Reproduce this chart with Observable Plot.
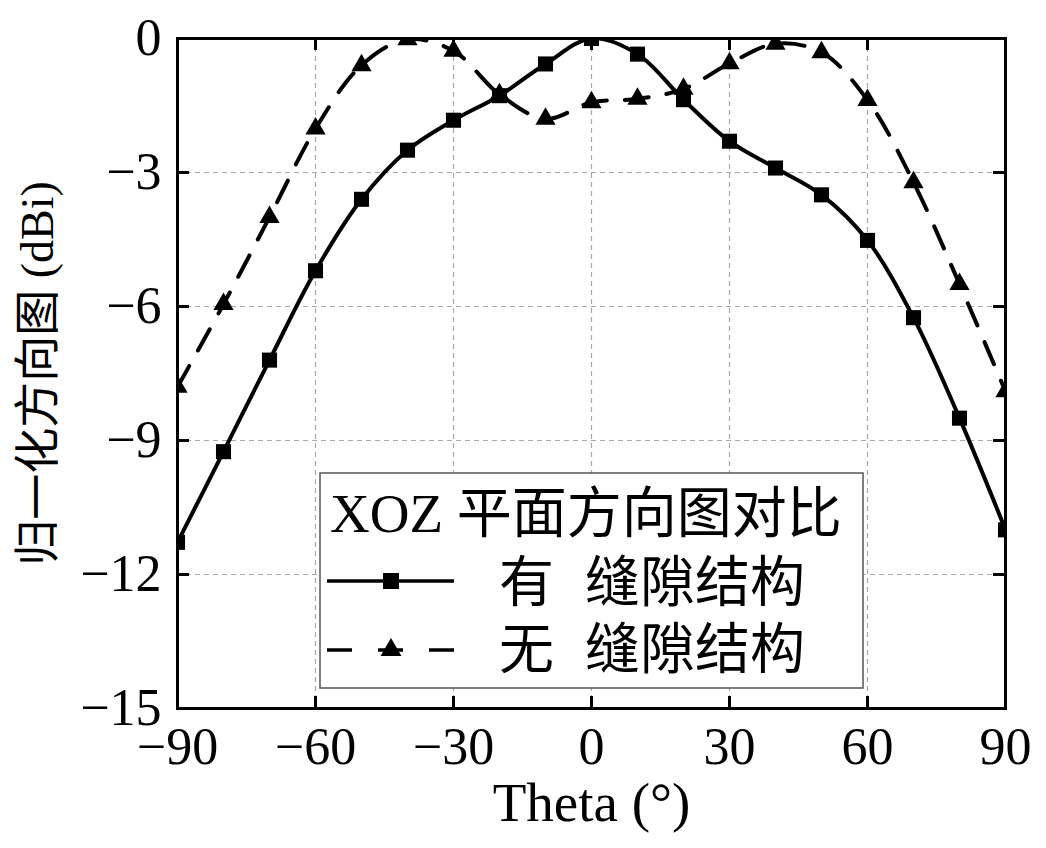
<!DOCTYPE html>
<html><head><meta charset="utf-8">
<script src="https://cdn.jsdelivr.net/npm/d3@7"></script>
<script src="https://cdn.jsdelivr.net/npm/@observablehq/plot@0.6"></script>
<style>
body{margin:0;background:#fff;}
#wrap{position:relative;width:1046px;height:848px;}
#legend{position:absolute;left:0;top:0;pointer-events:none;}
</style></head><body><div id="wrap"></div>
<script>
// ---- data ----
const theta = [-90,-80,-70,-60,-50,-40,-30,-20,-10,0,10,20,30,40,50,60,70,80,90];
const withGap = [-11.28,-9.25,-7.2,-5.2,-3.6,-2.5,-1.83,-1.28,-0.57,0,-0.35,-1.37,-2.3,-2.9,-3.5,-4.52,-6.25,-8.5,-11.0];
const withoutGap = [-7.8,-5.95,-4.0,-2.02,-0.6,-0.02,-0.28,-1.25,-1.8,-1.43,-1.35,-1.13,-0.56,-0.12,-0.31,-1.38,-3.22,-5.5,-7.9];
const xTicks = [-90,-60,-30,0,30,60,90];
const yTicks = [0,-3,-6,-9,-12,-15];
const seriesNames = ["有 缝隙结构","无 缝隙结构"];
const legendTitle = "XOZ 平面方向图对比";
const xLabel = "Theta (°)";
const yLabel = "归一化方向图 (dBi)";

const gapRows = theta.map((t,i)=>({theta:t, value:withGap[i], series:seriesNames[0]}));
const noGapRows = theta.map((t,i)=>({theta:t, value:withoutGap[i], series:seriesNames[1]}));

// ---- layout ----
const W=1046, H=848, mL=177, mR=41, mT=38, mB=140;
const frameW = W-mL-mR, frameH = H-mT-mB;
const fonts = "'Liberation Serif','Times New Roman','Noto Sans CJK SC',serif";
const tickLen = 12;

const plot = Plot.plot({
  width:W, height:H, marginLeft:mL, marginRight:mR, marginTop:mT, marginBottom:mB,
  style:{fontFamily:fonts, fontSize:"52px", color:"#000", background:"#fff"},
  x:{domain:[-90,90]},
  y:{domain:[-15,0]},
  marks:[
    Plot.ruleX(xTicks,{x:d=>d, stroke:"#a8a8a8", strokeWidth:1.2, strokeDasharray:"5,4"}),
    Plot.ruleY(yTicks,{y:d=>d, stroke:"#a8a8a8", strokeWidth:1.2, strokeDasharray:"5,4"}),
    Plot.line(gapRows,{x:"theta", y:"value", curve:"catmull-rom", stroke:"#000", strokeWidth:4, clip:true}),
    Plot.line(noGapRows,{x:"theta", y:"value", curve:"catmull-rom", stroke:"#000", strokeWidth:4, strokeDasharray:"24,18", clip:true}),
    Plot.dot(gapRows,{x:"theta", y:"value", symbol:"square", r:8.5, fill:"#000", clip:true}),
    Plot.dot(noGapRows,{x:"theta", y:"value", symbol:"triangle", r:7.5, fill:"#000", clip:true}),
    Plot.ruleX(xTicks,{x:d=>d, insetTop:frameH-tickLen, stroke:"#000", strokeWidth:3}),
    Plot.ruleX(xTicks,{x:d=>d, insetBottom:frameH-tickLen, stroke:"#000", strokeWidth:3}),
    Plot.ruleY(yTicks,{y:d=>d, insetRight:frameW-tickLen, stroke:"#000", strokeWidth:3}),
    Plot.ruleY(yTicks,{y:d=>d, insetLeft:frameW-tickLen, stroke:"#000", strokeWidth:3}),
    Plot.frame({stroke:"#000", strokeWidth:3}),
    Plot.axisX({ticks:xTicks, tickSize:0, tickPadding:19, label:null, fontSize:52}),
    Plot.axisY({ticks:yTicks, tickSize:0, tickPadding:16, label:null, fontSize:52}),
    Plot.text([xLabel],{text:d=>d, frameAnchor:"bottom", dy:95, lineAnchor:"middle", textAnchor:"middle", fontSize:55}),
    Plot.text([yLabel],{text:d=>d, frameAnchor:"left", dx:-139, rotate:-90, lineAnchor:"middle", textAnchor:"middle", fontSize:46})
  ]
});
const wrap = document.getElementById("wrap");
wrap.appendChild(plot);

// ---- legend (overlay) ----
const legendItems = [
  {label:seriesNames[0], dash:null, symbol:d3.symbolSquare, size:256},
  {label:seriesNames[1], dash:"25,26", symbol:d3.symbolTriangle, size:190}
];
const box = {x:320, y:473, w:543, h:215};
const svg = d3.select(wrap).append("svg").attr("id","legend").attr("width",W).attr("height",H)
  .style("font-family",fonts);
svg.append("rect").attr("x",box.x).attr("y",box.y).attr("width",box.w).attr("height",box.h)
  .attr("fill","#fff").attr("stroke","#555").attr("stroke-width",1.5);
svg.append("text").attr("x",box.x+10).attr("y",box.y+59).attr("font-size",55).text(legendTitle);
legendItems.forEach((it,i)=>{
  const ly = box.y + 108 + i*69;
  const ty = box.y + 128 + i*67;
  const ln = svg.append("line").attr("x1",box.x+7).attr("x2",box.x+134).attr("y1",ly).attr("y2",ly)
    .attr("stroke","#000").attr("stroke-width",3.5);
  if (it.dash) ln.attr("stroke-dasharray",it.dash);
  svg.append("path").attr("d",d3.symbol(it.symbol,it.size)()).attr("transform",`translate(${box.x+71},${ly})`).attr("fill","#000");
  const parts = it.label.split(" ");
  const t = svg.append("text").attr("x",box.x+179).attr("y",ty).attr("font-size",55);
  t.append("tspan").text(parts[0]);
  t.append("tspan").attr("dx",31).text(parts.slice(1).join(" "));
});
</script></body></html>
